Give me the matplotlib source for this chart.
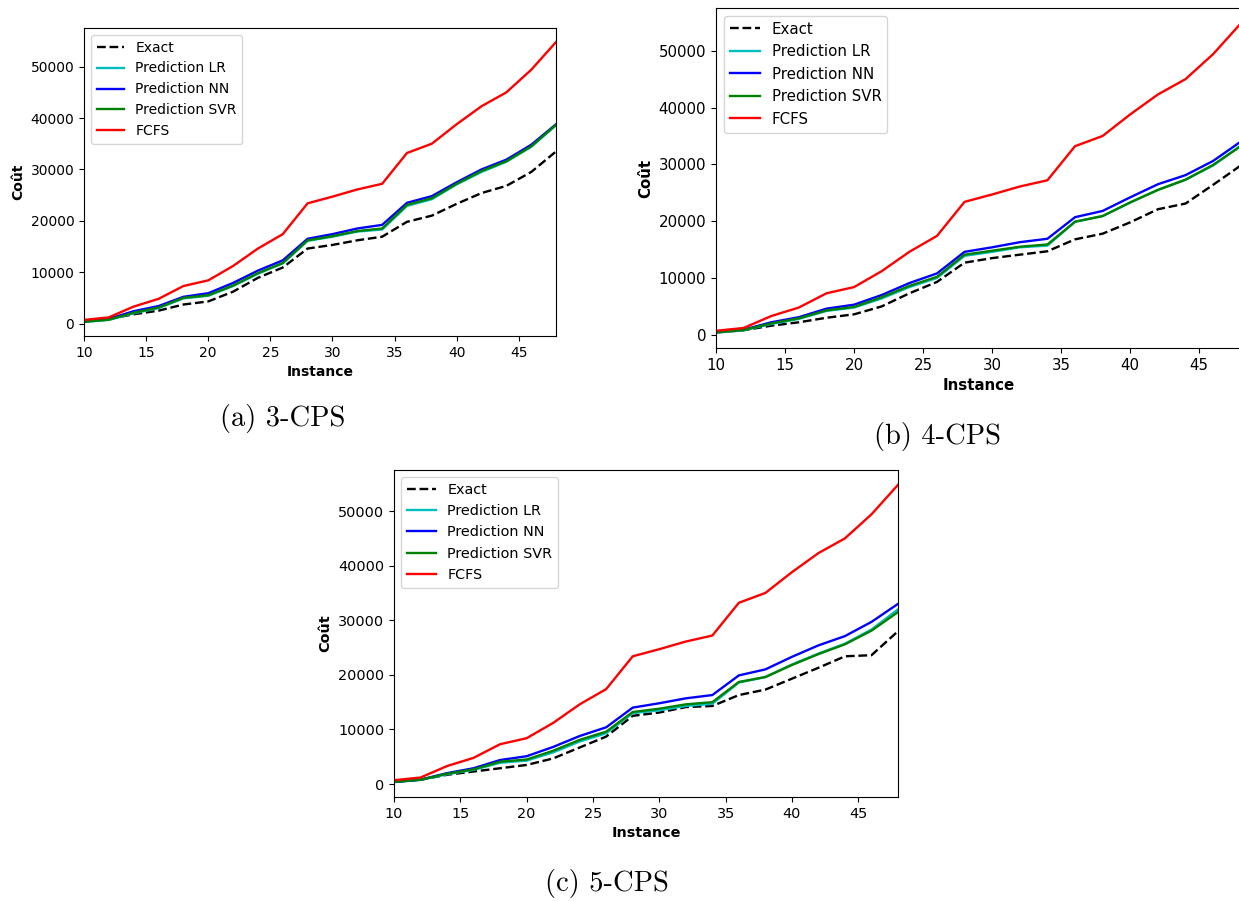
import numpy as np
import matplotlib
matplotlib.use("Agg")
import matplotlib.pyplot as plt

# Instances testées
instances = np.arange(10, 50, 2)

# Coût FCFS (identique pour les trois configurations)
fcfs = [700, 1200, 3300, 4800, 7300, 8400, 11200, 14600, 17400, 23400,
        24700, 26100, 27200, 33200, 35000, 38800, 42300, 45000, 49400, 54800]

# 3-CPS
exact_3 = [400, 900, 1800, 2500, 3700, 4300, 6200, 8900, 10900, 14600,
           15300, 16200, 16900, 19800, 21000, 23300, 25400, 26800, 29500, 33500]
lr_3 = [300, 700, 2000, 3000, 4900, 5400, 7300, 9700, 11700, 16100,
        16900, 17900, 18300, 22900, 24200, 27100, 29500, 31500, 34400, 38600]
nn_3 = [400, 900, 2400, 3400, 5200, 5900, 7900, 10300, 12300, 16500,
        17400, 18500, 19200, 23500, 24800, 27500, 30000, 31900, 34800, 38800]
svr_3 = [350, 750, 2100, 3100, 5000, 5500, 7400, 9800, 11800, 16200,
         17000, 18000, 18500, 23100, 24400, 27200, 29700, 31600, 34500, 38700]

# 4-CPS
exact_4 = [400, 800, 1600, 2200, 3000, 3600, 5000, 7300, 9300, 12700,
           13500, 14100, 14700, 16800, 17800, 19800, 22100, 23100, 26400, 29800]
lr_4 = [400, 800, 1900, 2800, 4200, 4800, 6400, 8400, 10000, 13900,
        14600, 15400, 15700, 19900, 20900, 23300, 25500, 27300, 29800, 33300]
nn_4 = [500, 900, 2200, 3100, 4600, 5300, 7000, 9100, 10800, 14600,
        15400, 16300, 16900, 20700, 21800, 24200, 26500, 28100, 30600, 34000]
svr_4 = [450, 850, 2000, 2900, 4300, 4900, 6600, 8600, 10200, 14100,
         14800, 15500, 15900, 19900, 20900, 23300, 25500, 27300, 29900, 33200]

# 5-CPS
exact_5 = [400, 800, 1700, 2300, 2900, 3500, 4700, 6700, 8700, 12500,
           13100, 14100, 14300, 16300, 17300, 19300, 21300, 23400, 23600, 28000]
lr_5 = [350, 750, 1800, 2600, 3900, 4300, 5800, 7800, 9300, 13000,
        13500, 14300, 14700, 18600, 19600, 21900, 23900, 25700, 28300, 32000]
nn_5 = [400, 800, 2000, 2900, 4400, 5100, 6800, 8800, 10400, 14000,
        14800, 15700, 16300, 19900, 21000, 23300, 25400, 27100, 29700, 33000]
svr_5 = [400, 800, 1900, 2700, 4100, 4500, 6100, 8100, 9600, 13200,
         13800, 14600, 15000, 18700, 19600, 21800, 23800, 25600, 28100, 31500]

fig = plt.figure(figsize=(12.39, 9.01), dpi=100)


def tracer(rect, exact, lr, nn, svr, fs, legende):
    ax = fig.add_axes(rect)
    lw = 1.7
    ax.plot(instances, exact, 'k--', lw=lw, label='Exact')
    ax.plot(instances, lr, 'c', lw=lw, label='Prediction LR')
    ax.plot(instances, nn, 'b', lw=lw, label='Prediction NN')
    ax.plot(instances, svr, 'g', lw=lw, label='Prediction SVR')
    ax.plot(instances, fcfs, 'r', lw=lw, label='FCFS')
    ax.set_xlim(10, 48)
    ax.set_xticks([10, 15, 20, 25, 30, 35, 40, 45])
    ax.tick_params(labelsize=fs)
    ax.set_xlabel('Instance', fontweight='bold', fontsize=fs)
    ax.set_ylabel('Coût', fontweight='bold', fontsize=fs)
    ax.legend(loc='upper left', fontsize=fs)
    fig.text(legende[0], legende[1], legende[2], family='cmr10',
             fontsize=20.5, ha='center', va='center')
    return ax


tracer([0.0678, 0.6271, 0.381, 0.3418], exact_3, lr_3, nn_3, svr_3, 10,
       (0.2284, 0.536, '(a) 3-CPS'))
tracer([0.5779, 0.6138, 0.4235, 0.3773], exact_4, lr_4, nn_4, svr_4, 10.8,
       (0.7563, 0.515, '(b) 4-CPS'))
tracer([0.318, 0.1154, 0.4068, 0.363], exact_5, lr_5, nn_5, svr_5, 10.4,
       (0.4899, 0.0189, '(c) 5-CPS'))

fig.savefig('out.png', dpi=100)
